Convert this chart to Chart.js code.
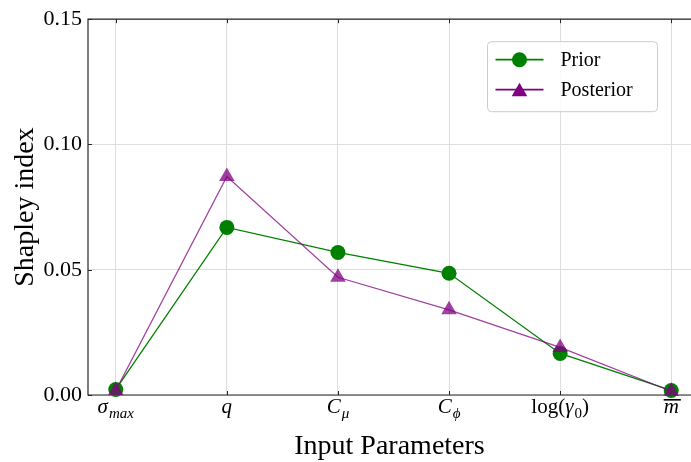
<!DOCTYPE html>
<html>
<head>
<meta charset="utf-8">
<script src="https://cdn.jsdelivr.net/npm/chart.js@4/dist/chart.umd.min.js"></script>
<style>
  html, body { margin: 0; padding: 0; background: #fff; }
  canvas { display: block; }
</style>
</head>
<body>
<canvas id="shapley" width="691" height="462"></canvas>
<script>
// parameters on the x axis (plain names) and how they are typeset
const categories = ['sigma_max', 'q', 'C_mu', 'C_phi', 'log(gamma_0)', 'm_bar'];
const tickParts = [
    [{ t: 'σ', it: true }, { t: 'max', it: true, sub: true }],
    [{ t: 'q', it: true }],
    [{ t: 'C', it: true }, { t: 'μ', it: true, sub: true }],
    [{ t: 'C', it: true }, { t: 'ϕ', it: true, sub: true }],
    [{ t: 'log(' }, { t: 'γ', it: true }, { t: '0', sub: true }, { t: ')' }],
    [{ t: 'm', it: true, bar: true }]
];

const priorValues = [0.0022, 0.0669, 0.0569, 0.0486, 0.0166, 0.0018];
const posteriorValues = [0.0018, 0.0872, 0.0470, 0.0340, 0.0190, 0.0015];

const yTicks = [0, 0.05, 0.10, 0.15];

const SERIF = '"Liberation Serif", "Times New Roman", serif';
const GREEN = '#008000';
const PURPLE = '#800080';
const PURPLE_A = 'rgba(128, 0, 128, 0.75)';

const legendItems = [
    { label: 'Prior', colour: GREEN, style: 'circle', r: 7.5 },
    { label: 'Posterior', colour: PURPLE, style: 'triangle', r: 9 }
];

function drawMarker(ctx, style, x, y, r, colour) {
    ctx.fillStyle = colour;
    ctx.beginPath();
    if (style === 'circle') {
        ctx.arc(x, y, r, 0, Math.PI * 2);
    } else {
        // same geometry chart.js uses for 'triangle'
        for (let k = 0; k < 3; k++) {
            const a = k * 2 * Math.PI / 3;
            const px = x + Math.sin(a) * r, py = y - Math.cos(a) * r;
            k === 0 ? ctx.moveTo(px, py) : ctx.lineTo(px, py);
        }
        ctx.closePath();
    }
    ctx.fill();
}

const frame = {
    id: 'frame',
    beforeDatasetsDraw(chart) {
        const { ctx, chartArea: a, scales } = chart;
        ctx.save();
        // the original figure is cropped on the right, so no right spine
        ctx.strokeStyle = '#262626';
        ctx.lineWidth = 1.2;
        ctx.beginPath();
        ctx.moveTo(chart.width, a.top);
        ctx.lineTo(a.left, a.top);
        ctx.lineTo(a.left, a.bottom);
        ctx.lineTo(chart.width, a.bottom);
        ctx.stroke();
        // inward ticks
        ctx.lineWidth = 1;
        ctx.beginPath();
        yTicks.forEach(v => {
            const py = Math.round(scales.y.getPixelForValue(v)) + 0.5;
            ctx.moveTo(a.left, py); ctx.lineTo(a.left + 4, py);
        });
        categories.forEach((c, i) => {
            const px = Math.round(scales.x.getPixelForValue(i)) + 0.5;
            ctx.moveTo(px, a.bottom); ctx.lineTo(px, a.bottom - 4);
            ctx.moveTo(px, a.top); ctx.lineTo(px, a.top + 4);
        });
        ctx.stroke();
        ctx.restore();
    },
    afterDraw(chart) {
        const { ctx, chartArea: a, scales } = chart;
        ctx.save();
        ctx.fillStyle = '#000';
        ctx.textBaseline = 'alphabetic';

        // x tick labels with subscripts / overline
        const size = 21;
        const base = a.bottom + 18;
        tickParts.forEach((parts, i) => {
            const fontOf = p => `${p.it ? 'italic ' : ''}${p.sub ? 15 : size}px ${SERIF}`;
            let w = 0;
            parts.forEach(p => { ctx.font = fontOf(p); p.w = ctx.measureText(p.t).width + (p.sub ? 1 : 0); w += p.w; });
            let x = scales.x.getPixelForValue(i) - w / 2;
            parts.forEach(p => {
                ctx.font = fontOf(p);
                ctx.fillText(p.t, x + (p.sub ? 1 : 0), base + (p.sub ? 5 : 0));
                if (p.bar) {
                    ctx.fillRect(x, base - 14, p.w + 2, 1.6);
                }
                x += p.w;
            });
        });

        // legend
        const bw = 170, bh = 70;
        const bx = 487.5, by = a.top + 22 + 0.5;
        ctx.beginPath();
        ctx.roundRect(bx, by, bw, bh, 4);
        ctx.fillStyle = 'rgba(255,255,255,0.85)';
        ctx.fill();
        ctx.strokeStyle = '#cccccc';
        ctx.lineWidth = 1;
        ctx.stroke();
        legendItems.forEach((it, k) => {
            const ly = by + 18 + k * 30;
            ctx.strokeStyle = it.colour;
            ctx.lineWidth = 1.8;
            ctx.beginPath();
            ctx.moveTo(bx + 8, ly); ctx.lineTo(bx + 56, ly);
            ctx.stroke();
            drawMarker(ctx, it.style, bx + 32, ly + (it.style === 'triangle' ? 2 : 0), it.r, it.colour);
            ctx.fillStyle = '#000';
            ctx.font = `20px ${SERIF}`;
            ctx.textBaseline = 'middle';
            ctx.fillText(it.label, bx + 73, ly + 1);
        });
        ctx.restore();
    }
};

new Chart(document.getElementById('shapley').getContext('2d'), {
    type: 'line',
    data: {
        datasets: [
            {
                label: 'Prior',
                data: priorValues.map((v, i) => ({ x: i, y: v })),
                borderColor: GREEN,
                backgroundColor: GREEN,
                borderWidth: 1.3,
                pointStyle: 'circle',
                pointRadius: 7.5,
                pointBorderWidth: 0,
                order: 1,
                clip: false
            },
            {
                label: 'Posterior',
                data: posteriorValues.map((v, i) => ({ x: i, y: v })),
                borderColor: PURPLE_A,
                backgroundColor: PURPLE_A,
                borderWidth: 1.3,
                pointStyle: 'triangle',
                pointRadius: 9,
                pointBorderWidth: 0,
                order: 0,
                clip: false
            }
        ]
    },
    options: {
        responsive: false,
        animation: false,
        events: [],
        layout: { autoPadding: false, padding: { top: 15, right: 0, left: 0, bottom: 0 } },
        plugins: { legend: { display: false }, tooltip: { enabled: false } },
        scales: {
            x: {
                type: 'linear',
                min: -0.25,
                max: 5.178,
                afterBuildTicks: s => { s.ticks = categories.map((c, i) => ({ value: i })); },
                afterFit: s => { s.height = 67; },
                grid: { color: '#dedede', lineWidth: 1, drawTicks: false },
                border: { display: false },
                ticks: { display: false },
                title: {
                    display: true,
                    text: 'Input Parameters',
                    color: '#000',
                    font: { family: SERIF, size: 28, lineHeight: 1.1 },
                    padding: { top: 0, bottom: 0 }
                }
            },
            y: {
                min: 0,
                max: 0.15,
                afterBuildTicks: s => { s.ticks = yTicks.map(v => ({ value: v })); },
                afterFit: s => { s.width = 88; },
                grid: { color: '#dedede', lineWidth: 1, drawTicks: false },
                border: { display: false },
                ticks: {
                    padding: 6,
                    color: '#000',
                    font: { family: SERIF, size: 22 },
                    callback: v => v.toFixed(2)
                },
                title: {
                    display: true,
                    text: 'Shapley index',
                    color: '#000',
                    font: { family: SERIF, size: 28, lineHeight: 1.1 },
                    padding: { top: 10, bottom: 0 }
                }
            }
        }
    },
    plugins: [frame]
});
</script>
</body>
</html>
